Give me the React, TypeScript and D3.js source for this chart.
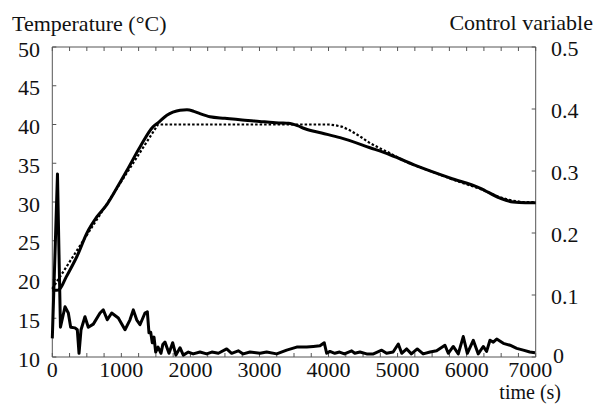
import React from "react";
import * as d3 from "d3";

// Reference (set-point) temperature, dotted — [time s, °C]
const refTime = [0, 1530, 4000, 4100, 4200, 4300, 4450, 4600, 4750, 4890, 5136, 5500, 5800, 6193, 6483, 6650, 6800, 7000];
const refTemp = [18.8, 40, 40, 39.9, 39.7, 39.3, 38.5, 37.6, 36.9, 36.3, 35.1, 33.9, 32.9, 31.7, 30.6, 30.2, 30.0, 30.0];

// Measured temperature, thick solid — [time s, °C]
const measTime = [0, 60, 111, 200, 358, 502, 647, 792, 940, 1082, 1270, 1458, 1530, 1659, 1746, 1850, 1950, 2050, 2138, 2283, 2500, 2718, 3000, 3196, 3300, 3420, 3550, 3660, 3900, 4167, 4601, 4890, 5324, 5759, 6193, 6483, 6672, 6850, 7000];
const measTemp = [18.6, 18.6, 18.8, 20.3, 23.0, 26.0, 28.1, 29.7, 31.9, 34.1, 37.1, 39.7, 40.2, 41.2, 41.6, 41.85, 41.9, 41.7, 41.4, 41.0, 40.8, 40.6, 40.4, 40.25, 40.2, 40.15, 39.85, 39.45, 38.9, 38.3, 37.0, 36.1, 34.5, 33.1, 31.8, 30.5, 30.0, 29.9, 29.9];

// Control variable, right axis — [time s, value]
const ctrlTime = [
  0, 40, 75, 100, 118, 184, 232, 266, 329, 362, 387, 416, 473, 521, 594, 691, 738, 796, 860, 956,
  1053, 1125, 1173, 1222, 1270, 1342, 1376, 1400, 1425, 1448, 1473, 1497, 1531, 1574, 1600, 1632,
  1690, 1743, 1790, 1849, 1897, 1970, 2040, 2139, 2235, 2310, 2405, 2525, 2597, 2693, 2765, 2863,
  3008, 3104, 3249, 3394, 3539, 3684, 3780, 3876, 3938, 3973, 4021, 4090, 4160, 4230, 4335, 4380,
  4455, 4552, 4650, 4770, 4840, 4935, 5010, 5060, 5132, 5200, 5285, 5370, 5470, 5565, 5686, 5734,
  5806, 5879, 5951, 6010, 6096, 6168, 6240, 6289, 6338, 6386, 6435, 6531, 6628, 6725, 6820, 6915, 6990,
];
const ctrlVal = [
  0.03, 0.17, 0.295, 0.15, 0.048, 0.081, 0.071, 0.048, 0.047, 0.044, 0.006, 0.044, 0.065, 0.048, 0.053, 0.071, 0.076, 0.06, 0.071, 0.063,
  0.044, 0.06, 0.076, 0.06, 0.052, 0.071, 0.073, 0.039, 0.04, 0.023, 0.032, 0.008, 0.016, 0.006, 0.02, 0.024,
  0.006, 0.023, 0.003, 0.015, 0.003, 0.008, 0.005, 0.008, 0.005, 0.008, 0.006, 0.013, 0.006, 0.01, 0.005, 0.008,
  0.006, 0.008, 0.005, 0.011, 0.016, 0.016, 0.017, 0.018, 0.023, 0.006, 0.009, 0.006, 0.008, 0.005, 0.01, 0.006,
  0.008, 0.005, 0.005, 0.011, 0.006, 0.008, 0.021, 0.006, 0.013, 0.005, 0.013, 0.005, 0.008, 0.01, 0.019, 0.006,
  0.017, 0.005, 0.033, 0.006, 0.027, 0.005, 0.017, 0.009, 0.027, 0.024, 0.029, 0.022, 0.019, 0.014, 0.011, 0.008, 0.007,
];

const xMajor = [0, 1000, 2000, 3000, 4000, 5000, 6000, 7000];
const yLeftTicks = [10, 15, 20, 25, 30, 35, 40, 45, 50];
const yRightTicks = [0, 0.1, 0.2, 0.3, 0.4, 0.5];
const yRightLabels = ["0", "0.1", "0.2", "0.3", "0.4", "0.5"];

const W = 594;
const H = 404;
const L = 52.3;
const R = 535.7;
const T = 47;
const B = 357;

const FONT = "'Liberation Serif', 'Times New Roman', Times, 'DejaVu Serif', serif";
const textStyle = { fontFamily: FONT, fontSize: "22px" } as React.CSSProperties;
const smallStyle = { fontFamily: FONT, fontSize: "20px" } as React.CSSProperties;

export default function App() {
  const x = d3.scaleLinear().domain([0, 7000]).range([L, R]);
  const yT = d3.scaleLinear().domain([10, 50]).range([B, T]);
  const yU = d3.scaleLinear().domain([0, 0.5]).range([B, T]);

  const refData = refTime.map((t, i) => [t, refTemp[i]] as [number, number]);
  const measData = measTime.map((t, i) => [t, measTemp[i]] as [number, number]);
  const ctrlData = ctrlTime.map((t, i) => [t, ctrlVal[i]] as [number, number]);

  const lineT = d3
    .line<[number, number]>()
    .x((d) => x(d[0]))
    .y((d) => yT(d[1]))
    .curve(d3.curveMonotoneX);
  const lineRef = d3
    .line<[number, number]>()
    .x((d) => x(d[0]))
    .y((d) => yT(d[1]));
  const lineU = d3
    .line<[number, number]>()
    .x((d) => x(d[0]))
    .y((d) => yU(d[1]));

  const minorX = d3.range(0, 7001, 250);
  const axisColor = "#555";

  return (
    <svg
      width={W}
      height={H}
      style={{ position: "absolute", left: 0, top: 0, background: "#fff" }}
    >
      <rect x={0} y={0} width={W} height={H} fill="#fff" />
      {/* frame */}
      <line x1={L} y1={T} x2={R} y2={T} stroke={axisColor} strokeWidth={1} />
      <line x1={L} y1={B} x2={R} y2={B} stroke={axisColor} strokeWidth={1} />
      <line x1={L} y1={T} x2={L} y2={B} stroke={axisColor} strokeWidth={1} />
      <line x1={R} y1={T} x2={R} y2={B} stroke={axisColor} strokeWidth={1} />
      {/* x ticks top and bottom */}
      {minorX.map((t) => (
        <g key={"xt" + t}>
          <line x1={x(t)} x2={x(t)} y1={B} y2={B - 4} stroke={axisColor} strokeWidth={1} />
          <line x1={x(t)} x2={x(t)} y1={T} y2={T + 4} stroke={axisColor} strokeWidth={1} />
        </g>
      ))}
      {xMajor.map((t, i) => (
        <text
          key={"xl" + t}
          x={x(t) + (i === xMajor.length - 1 ? -5.5 : 0)}
          y={B + 19.5}
          style={textStyle}
          textAnchor="middle"
          fill="#111"
        >
          {t}
        </text>
      ))}
      {/* left ticks */}
      {yLeftTicks.map((v) => (
        <g key={"yl" + v}>
          <line x1={L} x2={L + 4} y1={yT(v)} y2={yT(v)} stroke={axisColor} strokeWidth={1} />
          <text x={40} y={yT(v) + 9.5} style={textStyle} textAnchor="end" fill="#111">
            {v}
          </text>
        </g>
      ))}
      {/* right ticks */}
      {yRightTicks.map((v, i) => (
        <g key={"yr" + v}>
          <line x1={R - 4} x2={R} y1={yU(v)} y2={yU(v)} stroke={axisColor} strokeWidth={1} />
          <text x={v === 0 ? 553 : 551} y={yU(v) + (v === 0 ? 6 : 9)} style={textStyle} textAnchor="start" fill="#111">
            {yRightLabels[i]}
          </text>
        </g>
      ))}
      {/* titles */}
      <text x={12} y={31} style={textStyle} fill="#111">
        Temperature (°C)
      </text>
      <text x={593} y={30} style={textStyle} textAnchor="end" fill="#111">
        Control variable
      </text>
      <text x={561} y={399.3} style={smallStyle} textAnchor="end" fill="#111">
        time (s)
      </text>
      {/* data */}
      <path d={lineRef(refData) || ""} fill="none" stroke="#000" strokeWidth={2.2} strokeDasharray="2.5,2" />
      <path d={lineT(measData) || ""} fill="none" stroke="#000" strokeWidth={3} strokeLinejoin="round" />
      <path d={lineU(ctrlData) || ""} fill="none" stroke="#000" strokeWidth={3} strokeLinejoin="round" />
    </svg>
  );
}
